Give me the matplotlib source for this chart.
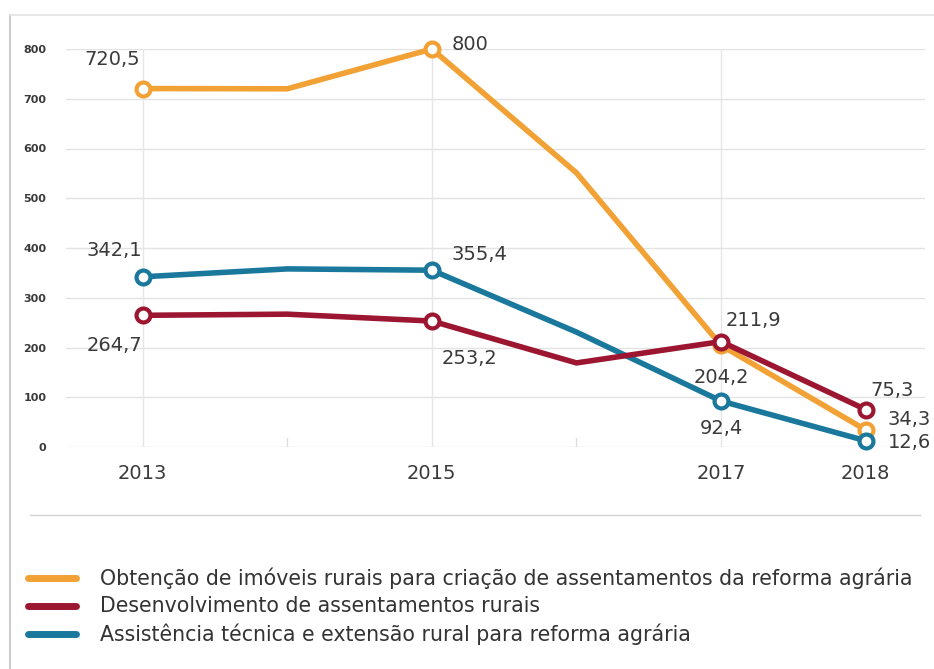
import matplotlib.pyplot as plt
from matplotlib.lines import Line2D

# Data
years = [2013, 2014, 2015, 2016, 2017, 2018]
obtencao = [720.5, 720, 800, 551, 204.2, 34.3]
desenvolvimento = [264.7, 267, 253.2, 169, 211.9, 75.3]
assistencia = [342.1, 358, 355.4, 231, 92.4, 12.6]

series_names = [
    'Obtenção de imóveis rurais para criação de assentamentos da reforma agrária',
    'Desenvolvimento de assentamentos rurais',
    'Assistência técnica e extensão rural para reforma agrária',
]
colors = ['#F2A135', '#9C1631', '#1A789C']
labelled = [0, 2, 4, 5]
year_ticks = [2013, 2015, 2017, 2018]
y_ticks = [0, 100, 200, 300, 400, 500, 600, 700, 800]

# label offsets in pixels (dx, dy, ha)
offsets = [
    [(-30, 29, 'center'), (20, 4, 'left'), (0, -32, 'center'), (22, 10, 'left')],
    [(-28, -30, 'center'), (10, -37, 'left'), (5, 21, 'left'), (5, 19, 'left')],
    [(-28, 26, 'center'), (20, 16, 'left'), (0, -27, 'center'), (22, -2, 'left')],
]

W, H = 934, 669
fig = plt.figure(figsize=(W / 100, H / 100), dpi=100)
ax = fig.add_axes([66 / W, 1 - 447 / H, (925 - 66) / W, (447 - 49) / H])

ax.set_xlim(2012.47, 2018.41)
ax.set_ylim(0, 800)

for i, vals in enumerate([obtencao, desenvolvimento, assistencia]):
    ax.plot(years, vals, color=colors[i], lw=4, marker='o', markevery=labelled,
            markersize=10, markerfacecolor='white', markeredgecolor=colors[i],
            markeredgewidth=3, clip_on=False, zorder=3 + (i == 1))
    for k, idx in enumerate(labelled):
        dx, dy, ha = offsets[i][k]
        txt = ('%.1f' % vals[idx]).replace('.', ',')
        if txt.endswith(',0'):
            txt = txt[:-2]
        ax.annotate(txt, (years[idx], vals[idx]), xytext=(dx * 0.72, dy * 0.72),
                    textcoords='offset points', ha=ha, va='center',
                    fontsize=14, color='#3a3a3a', zorder=6)

# grid and ticks
for y in y_ticks:
    ax.axhline(y, color='#e3e3e3', lw=1, zorder=0)
for x in [2013, 2015, 2017]:
    ax.axvline(x, color='#e6e6e6', lw=1, zorder=0)
for x in [2014, 2016]:
    ax.plot([x, x], [0, 18], color='#dddddd', lw=1, zorder=0)

for s in ax.spines.values():
    s.set_visible(False)
ax.set_xticks(year_ticks)
ax.set_xticklabels([str(y) for y in year_ticks], fontsize=14, color='#3a3a3a')
ax.tick_params(axis='x', length=0, pad=12)
ax.set_yticks(y_ticks)
ax.set_yticklabels([str(y) for y in y_ticks], fontsize=8, fontweight='bold', color='#3a3a3a')
ax.tick_params(axis='y', length=0, pad=14)

# frame and separator
fig.add_artist(Line2D([10 / W, 10 / W], [0, 1 - 15 / H], color='#cccccc', lw=1.5))
fig.add_artist(Line2D([10 / W, 1], [1 - 15 / H, 1 - 15 / H], color='#e4e4e4', lw=1.2))
fig.add_artist(Line2D([30 / W, 920 / W], [1 - 515 / H, 1 - 515 / H], color='#d5d5d5', lw=1))

# legend
legend_y = [578, 606, 634]
for i, name in enumerate(series_names):
    yy = 1 - legend_y[i] / H
    fig.add_artist(Line2D([28 / W, 76 / W], [yy, yy], color=colors[i], lw=5,
                          solid_capstyle='round'))
    fig.text(100 / W, yy, name, fontsize=14.8, color='#333333', va='center')

fig.savefig('out.png', dpi=100)
